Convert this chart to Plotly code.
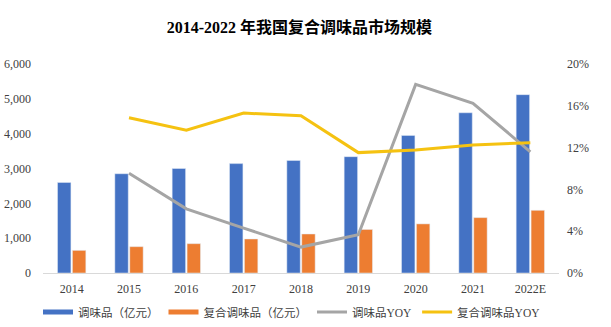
import plotly.graph_objects as go

years = ["2014", "2015", "2016", "2017", "2018", "2019", "2020", "2021", "2022E"]
seasoning = [2600, 2850, 3000, 3140, 3230, 3340, 3950, 4600, 5120]
compound = [650, 756, 842, 977, 1120, 1250, 1410, 1590, 1800]
seasoning_yoy = [None, 0.0955, 0.0614, 0.043, 0.0248, 0.0366, 0.1805, 0.1624, 0.116]
compound_yoy = [None, 0.1486, 0.1366, 0.153, 0.1505, 0.1152, 0.1178, 0.1225, 0.1247]

names = ["调味品（亿元）", "复合调味品（亿元）", "调味品YOY", "复合调味品YOY"]
colors = ["#4472C4", "#ED7D31", "#A5A5A5", "#F5C211"]

serif = "Liberation Serif, Times New Roman, Noto Sans CJK SC"
cjk = "Liberation Serif, Noto Sans CJK SC"

fig = go.Figure()
fig.add_trace(go.Bar(x=years, y=seasoning, name=names[0], marker_color=colors[0],
                     showlegend=False))
fig.add_trace(go.Bar(x=years, y=compound, name=names[1], marker_color=colors[1],
                     showlegend=False))
fig.add_trace(go.Scatter(x=years, y=seasoning_yoy, name=names[2], mode="lines",
                         line=dict(color=colors[2], width=3), yaxis="y2",
                         showlegend=False, connectgaps=False))
fig.add_trace(go.Scatter(x=years, y=compound_yoy, name=names[3], mode="lines",
                         line=dict(color=colors[3], width=3), yaxis="y2",
                         showlegend=False, connectgaps=False))

# legend entries (wide rectangular keys like the original)
for nm, c, w in zip(names, colors, [5, 5, 3, 3]):
    fig.add_trace(go.Scatter(x=[None], y=[None], mode="lines", name=nm,
                             line=dict(color=c, width=w), showlegend=True))

fig.update_layout(
    width=611, height=327,
    margin=dict(l=43, r=52, t=64, b=54, autoexpand=False),
    paper_bgcolor="white", plot_bgcolor="white",
    title=dict(text="<b>2014-2022 年我国复合调味品市场规模</b>", x=0.49, xanchor="center",
               y=1 - 27.5 / 327, yanchor="middle",
               font=dict(family=cjk, size=16, color="#000000")),
    barmode="group", bargap=0.48, bargroupgap=0.1,
    xaxis=dict(type="category", showline=True, linecolor="#D9D9D9", linewidth=1,
               showgrid=False, ticks="", ticklabelstandoff=5,
               tickfont=dict(family=serif, size=12, color="#404040")),
    yaxis=dict(range=[0, 6000], dtick=1000, tickformat=",d", showgrid=False, zeroline=False,
               showline=False, ticks="", ticklabelstandoff=11,
               tickfont=dict(family=serif, size=12, color="#404040")),
    yaxis2=dict(range=[0, 0.2], dtick=0.04, tickformat=".0%", overlaying="y", side="right",
                showgrid=False, zeroline=False, showline=False, ticks="", ticklabelstandoff=7,
                tickfont=dict(family=serif, size=12, color="#404040")),
    legend=dict(orientation="h", xref="container", yref="container",
                x=38 / 611, xanchor="left", y=(327 - 312) / 327, yanchor="middle",
                font=dict(family=cjk, size=11.5, color="#404040"), traceorder="normal",
                itemwidth=30),
)

fig.write_html("out.html")
